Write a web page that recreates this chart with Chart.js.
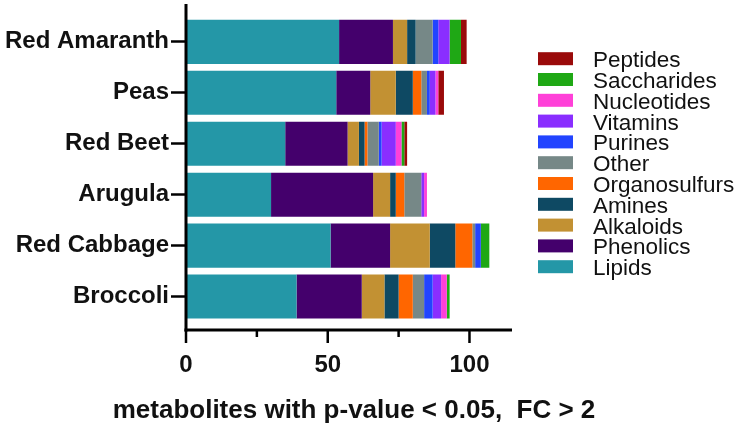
<!DOCTYPE html>
<html>
<head>
<meta charset="utf-8">
<script src="https://cdn.jsdelivr.net/npm/chart.js@4"></script>
<style>
  html, body { margin: 0; padding: 0; background: #fff; }
  #wrap { width: 746px; height: 428px; }
</style>
</head>
<body>
<div id="wrap"><canvas id="metab-chart"></canvas></div>
<script>
// data
var vegetables = ["Red Amaranth", "Peas", "Red Beet", "Arugula", "Red Cabbage", "Broccoli"];

var lipids        = [54, 53, 35, 30, 51, 39];
var phenolics     = [19, 12, 22, 36, 21, 23];
var alkaloids     = [5, 9, 4, 6, 14, 8];
var amines        = [3, 6, 2, 2, 9, 5];
var organosulfurs = [0, 3, 1, 3, 6, 5];
var other         = [6, 2, 4, 6, 1, 4];
var purines       = [2, 1, 1, 0, 2, 3];
var vitamins      = [4, 2, 5, 1, 0, 3];
var nucleotides   = [0, 1, 2, 1, 0, 2];
var saccharides   = [4, 0, 1, 0, 3, 1];
var peptides      = [2, 2, 1, 0, 0, 0];

var xTickLabels = [0, 50, 100];
var xMinorTicks = [25, 75];
var xTitle = "metabolites with p-value < 0.05,  FC > 2";

var FONT = "'Liberation Sans', Arial, sans-serif";

function series(label, data, color) {
  return {
    label: label,
    data: data,
    backgroundColor: color,
    borderWidth: 0,
  };
}

var datasets = [
  series("Lipids", lipids, "#2497a7"),
  series("Phenolics", phenolics, "#44006c"),
  series("Alkaloids", alkaloids, "#c29133"),
  series("Amines", amines, "#0e4963"),
  series("Organosulfurs", organosulfurs, "#ff6600"),
  series("Other", other, "#768887"),
  series("Purines", purines, "#2244ff"),
  series("Vitamins", vitamins, "#8a2eff"),
  series("Nucleotides", nucleotides, "#ff40d8"),
  series("Saccharides", saccharides, "#1fa815"),
  series("Peptides", peptides, "#9a0a0a"),
];

// axis lines, minor ticks and the x title (drawn by hand so it isn't squeezed)
var axesPlugin = {
  id: "axesPlugin",
  afterDraw: function (chart) {
    var ctx = chart.ctx;
    var area = chart.chartArea;
    var xs = chart.scales.x;
    var axisY = area.bottom + 8;
    ctx.save();
    ctx.strokeStyle = "#000";
    ctx.lineWidth = 3;
    ctx.lineCap = "butt";
    // y axis
    ctx.beginPath();
    ctx.moveTo(area.left, 4);
    ctx.lineTo(area.left, axisY + 1.5);
    ctx.stroke();
    // x axis
    ctx.beginPath();
    ctx.moveTo(area.left - 1.5, axisY);
    ctx.lineTo(area.right, axisY);
    ctx.stroke();
    ctx.lineWidth = 2.5;
    xTickLabels.forEach(function (v) {
      var px = xs.getPixelForValue(v);
      ctx.beginPath();
      ctx.moveTo(px, axisY);
      ctx.lineTo(px, axisY + 13);
      ctx.stroke();
    });
    xMinorTicks.forEach(function (v) {
      var px = xs.getPixelForValue(v);
      ctx.beginPath();
      ctx.moveTo(px, axisY);
      ctx.lineTo(px, axisY + 7);
      ctx.stroke();
    });
    // x title
    ctx.fillStyle = "#111";
    ctx.font = "bold 26px " + FONT;
    ctx.textAlign = "center";
    ctx.textBaseline = "alphabetic";
    ctx.fillText(xTitle, (area.left + area.right) / 2 + 5, 418);
    ctx.restore();
  },
};

// legend on the right, Peptides on top
var legendPlugin = {
  id: "sideLegend",
  afterDraw: function (chart) {
    var ctx = chart.ctx;
    var items = chart.data.datasets.slice().reverse();
    ctx.save();
    ctx.font = "22.5px " + FONT;
    ctx.textBaseline = "alphabetic";
    ctx.textAlign = "left";
    items.forEach(function (ds, i) {
      var cy = 58.7 + i * 20.8;
      ctx.fillStyle = ds.backgroundColor;
      ctx.fillRect(538, cy - 6.5, 35, 13);
      ctx.fillStyle = "#111";
      ctx.fillText(ds.label, 593, cy + 8.5);
    });
    ctx.restore();
  },
};

var ctx = document.getElementById("metab-chart").getContext("2d");

var chart = new Chart(ctx, {
  type: "bar",
  data: {
    labels: vegetables,
    datasets: datasets,
  },
  options: {
    indexAxis: "y",
    responsive: true,
    maintainAspectRatio: false,
    animation: false,
    layout: {
      padding: { top: 13, right: 234, left: 0, bottom: 0 },
    },
    plugins: {
      legend: { display: false },
      tooltip: { enabled: false },
    },
    datasets: {
      bar: {
        categoryPercentage: 0.865,
        barPercentage: 1.0,
      },
    },
    scales: {
      x: {
        type: "linear",
        stacked: true,
        min: 0,
        max: 115,
        afterBuildTicks: function (scale) {
          scale.ticks = xTickLabels.map(function (v) { return { value: v }; });
        },
        afterFit: function (scale) {
          scale.height = 428 - 322;
        },
        grid: {
          display: true,
          drawOnChartArea: false,
          drawTicks: false,
        },
        border: { display: false },
        ticks: {
          autoSkip: false,
          maxRotation: 0,
          padding: 29,
          color: "#111",
          font: { size: 24, weight: "bold", family: FONT },
        },
      },
      y: {
        type: "category",
        stacked: true,
        afterFit: function (scale) {
          scale.width = 186;
        },
        grid: {
          display: true,
          offset: false,
          drawOnChartArea: false,
          drawTicks: true,
          tickLength: 15,
          tickWidth: 2.5,
          tickColor: "#000",
        },
        border: { display: false },
        ticks: {
          autoSkip: false,
          padding: 2,
          color: "#111",
          font: { size: 24, weight: "bold", family: FONT },
        },
      },
    },
  },
  plugins: [axesPlugin, legendPlugin],
});
</script>
</body>
</html>
